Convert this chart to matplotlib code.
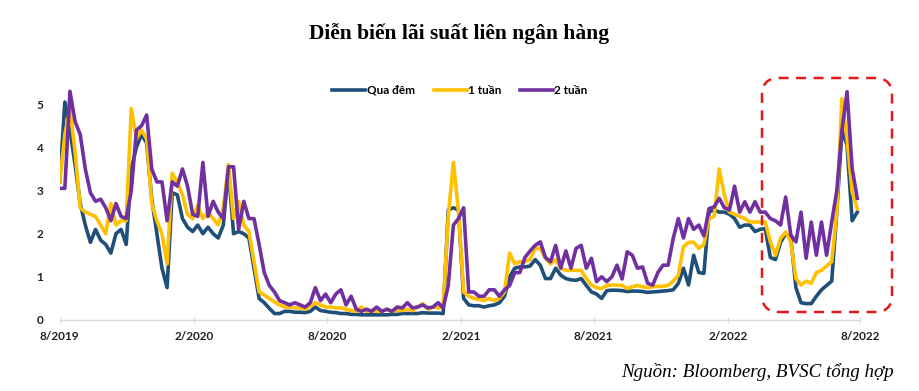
import matplotlib
matplotlib.use("Agg")
import matplotlib.pyplot as plt
import matplotlib.dates as mdates
from matplotlib.patches import FancyBboxPatch
import pandas as pd

dates = pd.date_range("2019-08-01", periods=157, freq="7D")

qua_dem = [
    3.2, 5.05, 4.4, 3.6, 2.7, 2.2, 1.8, 2.1, 1.85, 1.75,
    1.55, 2.0, 2.1, 1.75, 3.5, 4.0, 4.3, 4.1, 2.8, 2.0,
    1.2, 0.75, 2.95, 2.9, 2.35, 2.15, 2.05, 2.2, 2.0, 2.15,
    2.0, 1.9, 2.2, 3.5, 2.0, 2.05, 2.0, 1.9, 1.2, 0.5,
    0.4, 0.27, 0.15, 0.15, 0.2, 0.2, 0.18, 0.18, 0.17, 0.2,
    0.3, 0.22, 0.2, 0.18, 0.17, 0.15, 0.15, 0.13, 0.13, 0.12,
    0.12, 0.12, 0.12, 0.12, 0.12, 0.13, 0.13, 0.15, 0.15, 0.15,
    0.15, 0.17, 0.16, 0.16, 0.16, 0.15, 2.55, 2.6, 2.55, 0.5,
    0.35, 0.33, 0.33, 0.3, 0.33, 0.35, 0.4, 0.55, 1.0, 1.2,
    1.23, 1.23, 1.25, 1.4, 1.27, 0.96, 0.96, 1.2, 1.04, 0.96,
    0.93, 0.92, 0.96, 0.8, 0.65, 0.6, 0.5, 0.68, 0.69, 0.69,
    0.68, 0.66, 0.67, 0.67, 0.66, 0.64, 0.65, 0.66, 0.67, 0.68,
    0.7, 0.85, 1.2, 0.81, 1.5, 1.1, 1.08, 2.5, 2.55, 2.5,
    2.5, 2.45, 2.35, 2.15, 2.2, 2.2, 2.05, 2.1, 2.12, 1.45,
    1.4, 1.8, 2.0, 1.9, 0.75, 0.4, 0.38, 0.38, 0.55, 0.7,
    0.8, 0.9, 2.5, 4.4, 4.05, 2.3, 2.5,
]

mot_tuan = [
    3.2, 4.3, 4.9, 3.9, 2.6, 2.5, 2.45, 2.4, 2.2, 2.0,
    2.7, 2.2, 2.3, 2.3, 4.9, 4.2, 4.4, 4.2, 2.7, 2.3,
    2.0, 1.3, 3.4, 3.2, 2.9, 2.45, 2.35, 2.65, 2.35, 2.5,
    2.35, 2.2, 2.6, 3.6, 2.35, 2.75, 2.2, 2.05, 1.35, 0.65,
    0.58, 0.5, 0.42, 0.35, 0.3, 0.3, 0.28, 0.28, 0.25, 0.32,
    0.4, 0.35, 0.3, 0.3, 0.28, 0.28, 0.25, 0.22, 0.2, 0.3,
    0.2, 0.22, 0.2, 0.2, 0.25, 0.2, 0.22, 0.22, 0.25, 0.22,
    0.3, 0.38, 0.25, 0.3, 0.28, 0.3, 2.4, 3.65, 2.5, 0.65,
    0.55, 0.5, 0.48, 0.45, 0.5, 0.45, 0.5, 0.65, 1.55, 1.3,
    1.35, 1.35, 1.4, 1.66, 1.66, 1.43, 1.3, 1.4, 1.2, 1.15,
    1.15, 1.15, 1.15, 0.96, 0.81, 0.75, 0.73, 0.8, 0.81, 0.81,
    0.8, 0.73, 0.77, 0.8, 0.77, 0.75, 0.77, 0.78, 0.78, 0.8,
    0.9, 1.04, 1.7, 1.8, 1.8, 1.66, 1.75, 2.35, 2.4, 3.5,
    2.9, 2.5, 2.45, 2.4, 2.35, 2.27, 2.27, 2.27, 2.27, 1.81,
    1.5, 1.89, 2.04, 1.81, 0.96, 0.81, 0.9, 0.85, 1.1, 1.15,
    1.25, 1.35, 2.5, 5.13, 4.2, 2.97, 2.58,
]

hai_tuan = [
    3.05, 3.05, 5.3, 4.6, 4.3, 3.5, 2.95, 2.75, 2.8, 2.6,
    2.3, 2.7, 2.4, 2.35, 3.0, 4.4, 4.5, 4.75, 3.5, 3.2,
    3.2, 2.3, 3.2, 3.1, 3.5, 3.1, 2.45, 2.4, 3.65, 2.4,
    2.75, 2.5, 2.35, 3.55, 3.55, 2.1, 2.75, 2.35, 2.35, 1.75,
    1.1, 0.8, 0.65, 0.45, 0.4, 0.35, 0.4, 0.35, 0.3, 0.4,
    0.75, 0.45, 0.6, 0.4, 0.6, 0.7, 0.35, 0.55, 0.25, 0.2,
    0.25, 0.2, 0.3, 0.2, 0.25, 0.2, 0.3, 0.28, 0.4, 0.28,
    0.3, 0.35, 0.28, 0.3, 0.4, 0.28, 0.8, 2.2, 2.35, 2.6,
    0.65, 0.65, 0.55, 0.55, 0.7, 0.7, 0.55, 0.7, 0.8, 1.1,
    1.1, 1.45, 1.6, 1.73, 1.81, 1.45, 1.35, 1.73, 1.2, 1.6,
    1.2, 1.66, 1.73, 1.2, 1.43, 0.89, 1.0, 0.89, 1.0, 1.27,
    0.95, 1.58, 1.5, 1.2, 1.23, 0.85, 0.81, 1.1, 1.27, 1.27,
    1.89, 2.35, 1.9, 2.35, 2.1, 2.2, 1.95, 2.58, 2.62, 2.82,
    2.6, 2.55, 3.1, 2.5, 2.74, 2.5, 2.74, 2.5, 2.5, 2.35,
    2.3, 2.2, 2.85, 1.97, 1.81, 2.5, 1.43, 2.27, 1.5, 2.27,
    1.5, 2.27, 3.0, 4.4, 5.29, 3.51, 2.82,
]

series_names = ["Qua đêm", "1 tuần", "2 tuần"]
series_colors = ["#1F4E79", "#FFC000", "#7030A0"]
x_tick_dates = pd.date_range("2019-08-01", "2022-08-01", freq="6MS")
x_tick_labels = ["8/2019", "2/2020", "8/2020", "2/2021", "8/2021", "2/2022", "8/2022"]
y_ticks = [0, 1, 2, 3, 4, 5]

fig = plt.figure(figsize=(9.19, 3.91), dpi=100)
ax = fig.add_axes([0.065, 0.1816, 0.871, 0.607])

for vals, name, col in zip([qua_dem, mot_tuan, hai_tuan], series_names, series_colors):
    ax.plot(dates, vals, color=col, lw=2.6, label=name, solid_joinstyle="round")

ax.set_xlim(pd.Timestamp("2019-08-01"), pd.Timestamp("2022-08-01"))
ax.set_ylim(0, 5.5)
ax.set_xticks(x_tick_dates)
ax.set_xticklabels(x_tick_labels)
ax.set_yticks(y_ticks)
ax.set_yticklabels([str(v) for v in y_ticks])

for s in ["top", "right", "left"]:
    ax.spines[s].set_visible(False)
ax.spines["bottom"].set_color("#D9D9D9")
ax.spines["bottom"].set_linewidth(1.0)
ax.tick_params(axis="x", length=4, color="#D9D9D9", direction="inout", pad=6)
ax.tick_params(axis="y", length=0, pad=12)
for lab in ax.get_xticklabels() + ax.get_yticklabels():
    lab.set_fontfamily("Lato")
    lab.set_fontweight("bold")
    lab.set_fontsize(8.5)
    lab.set_color("#222222")

leg = ax.legend(loc="upper center", bbox_to_anchor=(0.5, 1.035), ncol=3, frameon=False,
                prop={"family": "Lato", "weight": "bold", "size": 8.5},
                handlelength=2.8, handletextpad=0.1, columnspacing=1.6)

fig.text(0.5, 0.915, "Diễn biến lãi suất liên ngân hàng", ha="center", va="center",
         fontsize=15.5, fontweight="bold", family="Liberation Serif")
fig.text(0.972, 0.048, "Nguồn: Bloomberg, BVSC tổng hợp", ha="right", va="center",
         fontsize=13.7, style="italic", family="Liberation Serif")

box = FancyBboxPatch((7.62, 0.79), 1.30, 2.34, boxstyle="round,pad=0,rounding_size=0.17",
                     transform=fig.dpi_scale_trans, fill=False, edgecolor="#E31A1C",
                     linestyle=(0, (4, 3)), linewidth=1.8)
fig.patches.append(box)

fig.savefig("out.png", dpi=100)
